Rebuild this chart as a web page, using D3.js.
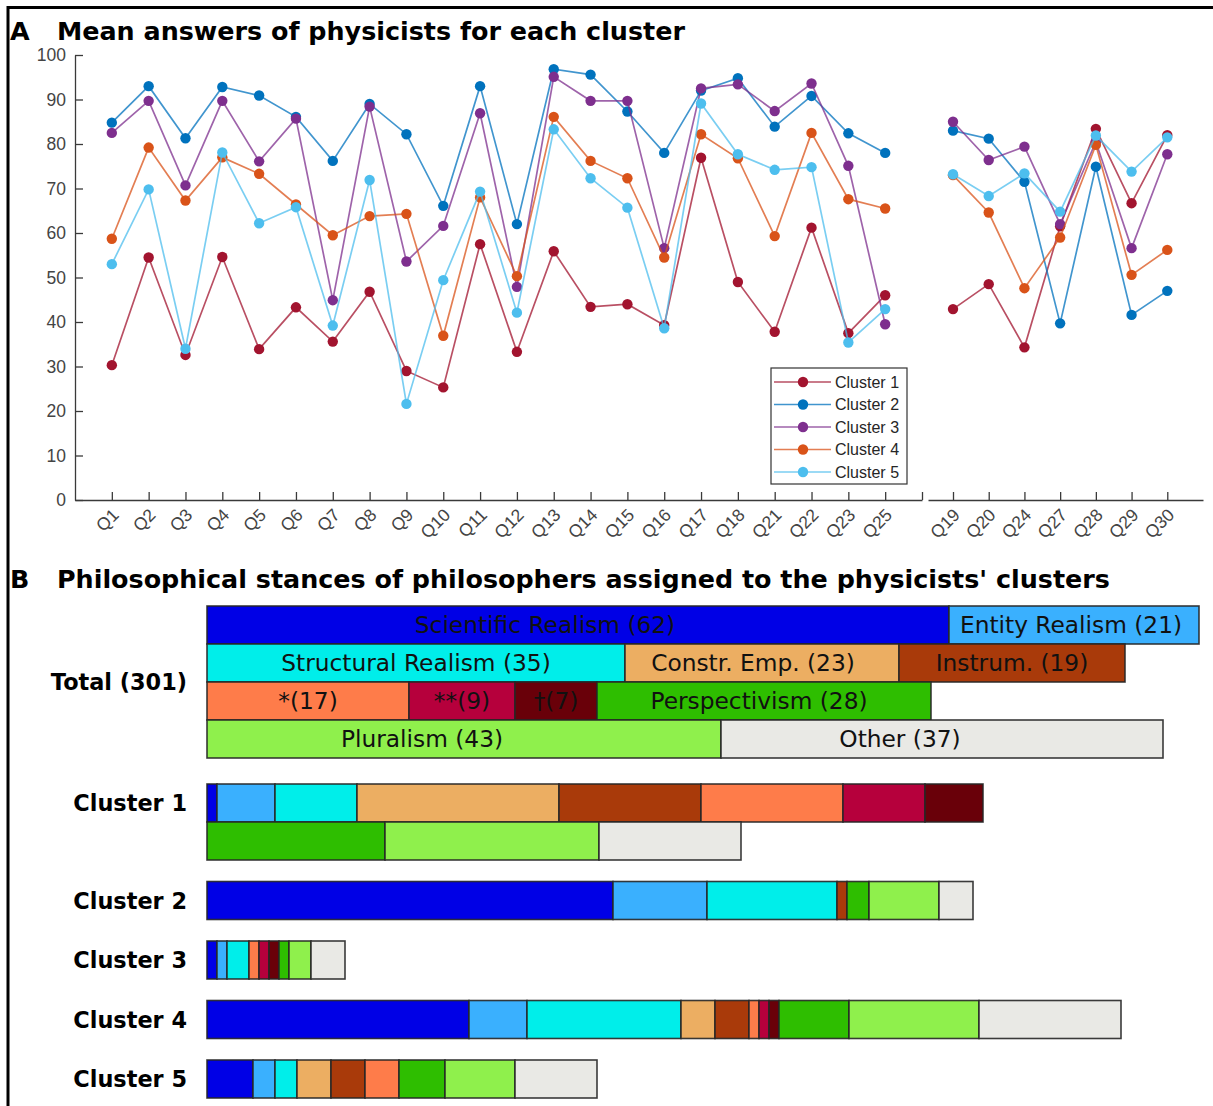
<!DOCTYPE html>
<html>
<head>
<meta charset="utf-8">
<script src="https://cdn.jsdelivr.net/npm/d3@7"></script>
<style>
  body { margin: 0; background: #fff; }
  svg { display: block; }
</style>
</head>
<body>
<svg id="fig" width="1213" height="1106"></svg>
<script>
// ---- panel A data (mean answers, 0-100) ----
const questionsLeft = ["Q1","Q2","Q3","Q4","Q5","Q6","Q7","Q8","Q9","Q10","Q11","Q12","Q13","Q14","Q15","Q16","Q17","Q18","Q21","Q22","Q23","Q25"];
const questionsRight = ["Q19","Q20","Q24","Q27","Q28","Q29","Q30"];

const clusterNames = ["Cluster 1","Cluster 2","Cluster 3","Cluster 4","Cluster 5"];
const clusterColors = ["#A2142F","#0072BD","#7E2F8E","#D95319","#4DBEEE"];

const cluster1Left = [30.3,54.5,32.6,54.6,33.9,43.3,35.6,46.8,29,25.3,57.5,33.3,55.9,43.4,44,39.3,76.9,49,37.8,61.2,37.5,46];
const cluster1Right = [42.9,48.5,34.3,61.5,83.4,66.7,82];
const cluster2Left = [84.8,93,81.3,92.8,90.9,86.1,76.2,89,82.2,66.1,93,62,96.8,95.6,87.3,78,92,94.8,83.9,90.8,82.4,78];
const cluster2Right = [83,81.2,71.5,39.7,74.9,41.6,47];
const cluster3Left = [82.5,89.7,70.7,89.7,76.1,85.7,44.9,88.4,53.6,61.6,86.9,47.9,95.1,89.7,89.7,56.6,92.5,93.4,87.4,93.6,75.1,39.5];
const cluster3Right = [85,76.4,79.4,62,80.5,56.6,77.7];
const cluster4Left = [58.7,79.2,67.3,77,73.3,66.4,59.5,63.8,64.3,36.9,68,50.3,86.1,76.2,72.3,54.5,82.2,76.8,59.3,82.5,67.6,65.5];
const cluster4Right = [73,64.6,47.6,59,79.8,50.6,56.2];
const cluster5Left = [53,69.8,34,78.1,62.2,65.8,39.2,71.9,21.6,49.4,69.3,42.1,83.3,72.3,65.7,38.6,89.1,77.7,74.2,74.8,35.4,42.9];
const cluster5Right = [73.2,68.3,73.4,64.8,81.9,73.8,81.5];

const yTicks = [0,10,20,30,40,50,60,70,80,90,100];

// ---- panel B data (number of philosophers per stance) ----
const stances = ["Scientific Realism","Entity Realism","Structural Realism","Constr. Emp.","Instrum.","*","**","\u2020","Perspectivism","Pluralism","Other"];
const stanceColors = ["#0000e6","#3ab0fe","#00eeea","#ecae62","#a93a0a","#fe7c4a","#b6003c","#690009","#2ebe00","#8ff04c","#e9e9e5"];
const totalCounts = [62,21,35,23,19,17,9,7,28,43,37];
const cluster1Counts = [1,5,7,17,12,12,7,5,15,18,12];
const cluster2Counts = [34,8,11,0,1,0,0,0,2,6,3];
const cluster3Counts = [1,1,2,0,0,1,1,1,1,2,3];
const cluster4Counts = [22,5,13,3,3,1,1,1,6,11,12];
const cluster5Counts = [4,2,2,3,3,3,0,0,4,6,7];

// which stances go on which line of a group
const totalRows = [[0,1],[2,3,4],[5,6,7,8],[9,10]];
const cluster1Rows = [[0,1,2,3,4,5,6,7],[8,9,10]];
const singleRow = [[0,1,2,3,4,5,6,7,8,9,10]];

// labels in the total bar are not all centred in the original
const labelNudge = {0: -33, 1: -3, 3: -9, 8: -5, 9: -42, 10: -42};

const svg = d3.select("#fig");
const axisColor = "#3a3a3a";
const tickFont = "'Liberation Sans', Arial, Helvetica, sans-serif";
const boldFont = "'DejaVu Sans', sans-serif";

// frame around the figure
svg.append("rect")
    .attr("x", 8).attr("y", 7.5)
    .attr("width", 1300).attr("height", 1200)
    .attr("fill", "none").attr("stroke", "#000").attr("stroke-width", 3);

// ---------------- Panel A ----------------
svg.append("text").attr("x", 10).attr("y", 40)
    .attr("font-family", boldFont).attr("font-weight", "bold").attr("font-size", 25.4)
    .text("A");
svg.append("text").attr("x", 57).attr("y", 40)
    .attr("font-family", boldFont).attr("font-weight", "bold").attr("font-size", 25.4)
    .text("Mean answers of physicists for each cluster");

const y = d3.scaleLinear().domain([0, 100]).range([500, 55]);
const xL = d3.scaleLinear().domain([0, questionsLeft.length + 1]).range([75, 922]);
const xR = d3.scaleLinear().domain([0.3, questionsRight.length + 1]).range([928, 1203]);

const gA = svg.append("g");

// y axis (inward ticks)
const yAxis = gA.append("g").attr("transform", `translate(75,0)`)
    .call(d3.axisLeft(y).tickValues(yTicks).tickSizeInner(-8).tickSizeOuter(0).tickPadding(9));
// bottom axes
const xAxisL = gA.append("g").attr("transform", `translate(0,500)`)
    .call(d3.axisBottom(xL).tickValues(d3.range(1, questionsLeft.length + 2))
      .tickSizeInner(-8).tickSizeOuter(0).tickFormat(""));
const xAxisR = gA.append("g").attr("transform", `translate(0,500)`)
    .call(d3.axisBottom(xR).tickValues(d3.range(1, questionsRight.length + 1))
      .tickSizeInner(-8).tickSizeOuter(0).tickFormat(""));

[yAxis, xAxisL, xAxisR].forEach(a => {
  a.select(".domain").attr("stroke", axisColor).attr("stroke-width", 1.3);
  a.selectAll(".tick line").attr("stroke", axisColor).attr("stroke-width", 1.3);
  a.selectAll("text").attr("font-family", tickFont).attr("font-size", 17.5).attr("fill", "#444");
});

// rotated question labels
function qLabels(list, x) {
  gA.append("g").selectAll("text")
    .data(list)
    .enter()
    .append("text")
    .attr("transform", (d, i) => `translate(${x(i + 1) + 8},${516}) rotate(-45)`)
    .attr("text-anchor", "end")
    .attr("font-family", tickFont).attr("font-size", 17.5).attr("fill", "#444")
    .text(d => d);
}
qLabels(questionsLeft, xL);
qLabels(questionsRight, xR);

const leftSeries = [cluster1Left, cluster2Left, cluster3Left, cluster4Left, cluster5Left];
const rightSeries = [cluster1Right, cluster2Right, cluster3Right, cluster4Right, cluster5Right];

const line = x => d3.line().x((d, i) => x(i + 1)).y(d => y(d));

clusterNames.forEach((name, k) => {
  const g = gA.append("g");
  [[leftSeries[k], xL], [rightSeries[k], xR]].forEach(([vals, x]) => {
    g.append("path")
        .attr("d", line(x)(vals))
        .attr("fill", "none")
        .attr("stroke", clusterColors[k])
        .attr("stroke-opacity", 0.75)
        .attr("stroke-width", 1.7);
    g.selectAll(null)
        .data(vals)
        .enter()
        .append("circle")
        .attr("cx", (d, i) => x(i + 1))
        .attr("cy", d => y(d))
        .attr("r", 5.2)
        .attr("fill", clusterColors[k]);
  });
});

// legend
const legend = gA.append("g").attr("transform", "translate(771,368)");
legend.append("rect").attr("width", 136).attr("height", 116)
    .attr("fill", "#fff").attr("stroke", "#333").attr("stroke-width", 1.2);
clusterNames.forEach((name, k) => {
  const ly = 14 + k * 22.5;
  legend.append("line").attr("x1", 3).attr("x2", 60).attr("y1", ly).attr("y2", ly)
      .attr("stroke", clusterColors[k]).attr("stroke-opacity", 0.75).attr("stroke-width", 1.7);
  legend.append("circle").attr("cx", 32).attr("cy", ly).attr("r", 5.2).attr("fill", clusterColors[k]);
  legend.append("text").attr("x", 64).attr("y", ly + 5.5)
      .attr("font-family", tickFont).attr("font-size", 16).attr("fill", "#262626")
      .text(name);
});

// ---------------- Panel B ----------------
svg.append("text").attr("x", 10).attr("y", 588)
    .attr("font-family", boldFont).attr("font-weight", "bold").attr("font-size", 25.4)
    .text("B");
svg.append("text").attr("x", 57).attr("y", 588)
    .attr("font-family", boldFont).attr("font-weight", "bold").attr("font-size", 25.4)
    .text("Philosophical stances of philosophers assigned to the physicists' clusters");

const xB = d3.scaleLinear().domain([0, 100]).range([207, 1407]);
const segGap = 2;
const rowH = 38;

const groups = [
  { label: "Total (301)", counts: totalCounts, rows: totalRows, labels: true },
  { label: "Cluster 1", counts: cluster1Counts, rows: cluster1Rows },
  { label: "Cluster 2", counts: cluster2Counts, rows: singleRow },
  { label: "Cluster 3", counts: cluster3Counts, rows: singleRow },
  { label: "Cluster 4", counts: cluster4Counts, rows: singleRow },
  { label: "Cluster 5", counts: cluster5Counts, rows: singleRow }
];

const gB = svg.append("g");
let groupTop = 606;
groups.forEach((grp, gi) => {
  const h = grp.rows.length * rowH;
  gB.append("text")
      .attr("x", 187).attr("y", groupTop + (grp.rows.length > 2 ? h / 2 : rowH / 2))
      .attr("dy", "0.36em")
      .attr("text-anchor", "end")
      .attr("font-family", boldFont).attr("font-weight", "bold").attr("font-size", 22.4)
      .text(grp.label);

  grp.rows.forEach((row, ri) => {
    const ry = groupTop + ri * rowH;
    let cur = xB(0);
    const segs = row.filter(s => grp.counts[s] > 0).map(s => {
      const w = xB(grp.counts[s]) - xB(0) - segGap;
      const seg = { s, x: cur, w, n: grp.counts[s] };
      cur += w;
      return seg;
    });
    const rg = gB.append("g");
    rg.selectAll("rect")
        .data(segs)
        .enter()
        .append("rect")
        .attr("x", d => d.x)
        .attr("y", ry)
        .attr("width", d => d.w)
        .attr("height", rowH)
        .attr("fill", d => stanceColors[d.s])
        .attr("stroke", "#262626")
        .attr("stroke-opacity", 0.9)
        .attr("stroke-width", 1.6);
    if (grp.labels) {
      rg.selectAll("text")
          .data(segs)
          .enter()
          .append("text")
          .attr("x", d => d.x + d.w / 2 + (labelNudge[d.s] || 0))
          .attr("y", ry + rowH / 2)
          .attr("dy", "0.36em")
          .attr("text-anchor", "middle")
          .attr("font-family", "'DejaVu Sans', sans-serif")
          .attr("font-size", 23.3)
          .attr("fill", "#111")
          .text(d => {
            const name = stances[d.s];
            const symbol = /^[*\u2020]/.test(name);
            return symbol ? `${name}(${d.n})` : `${name} (${d.n})`;
          });
    }
  });
  groupTop += h + (gi === 0 ? 26 : 21.5);
});
</script>
</body>
</html>
